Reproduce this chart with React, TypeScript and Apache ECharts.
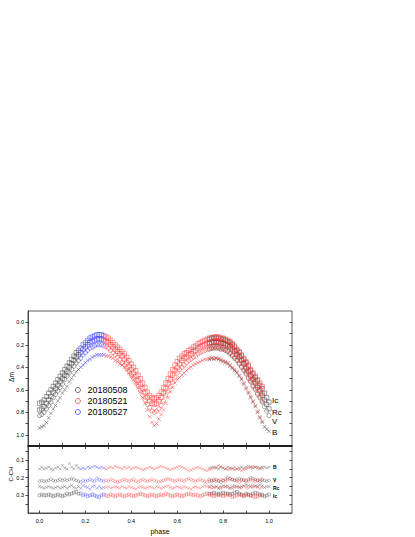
import React, { useEffect, useRef } from "react";
import * as echarts from "echarts";

// ---- phases per observing night ----
const phase508 = [0.00,0.01,0.02,0.03,0.04,0.05,0.06,0.07,0.08,0.09,0.10,0.11,0.12,0.13,0.14,0.15,0.16,0.17,
  0.74,0.75,0.76,0.77,0.78,0.79,0.80,0.81,0.82,0.83,0.84,0.85,0.86,0.87,0.88,0.89,0.90,0.91,0.92,0.93,0.94,0.95,0.96,0.97,0.98,0.99,1.00];
const phase527 = [0.18,0.19,0.20,0.21,0.22,0.23,0.24,0.25,0.26,0.27,0.28];
const phase521 = [0.29,0.30,0.31,0.32,0.33,0.34,0.35,0.36,0.37,0.38,
  0.39,0.40,0.41,0.42,0.43,0.44,0.45,0.46,0.47,0.48,
  0.49,0.50,0.51,0.52,0.53,0.54,0.55,0.56,0.57,0.58,
  0.59,0.60,0.61,0.62,0.63,0.64,0.65,0.66,0.67,0.68,
  0.69,0.70,0.71,0.72,0.73,0.74,0.75,0.76,0.77,0.78,
  0.79,0.80,0.81,0.82,0.83,0.84,0.85,0.86,0.87,0.88,
  0.89,0.90,0.91,0.92,0.93,0.94,0.95,0.96,0.97];

// ---- light curves (Δm) ----
const ic508 = [.72,.71,.69,.66,.63,.60,.57,.54,.51,.48,.45,.42,.39,.36,.33,.30,.27,.25,
  .15,.14,.14,.14,.14,.15,.15,.16,.17,.18,.20,.22,.25,.27,.30,.33,.36,.39,.43,.46,.49,.52,.56,.59,.63,.67,.71];
const rc508 = [.78,.77,.75,.72,.69,.66,.62,.59,.56,.53,.50,.47,.44,.40,.37,.34,.31,.29,
  .19,.18,.18,.18,.18,.19,.19,.20,.21,.22,.24,.26,.29,.31,.34,.37,.41,.44,.48,.51,.54,.58,.61,.65,.69,.73,.77];
const v508 = [.83,.82,.80,.77,.74,.71,.67,.64,.61,.58,.55,.51,.48,.45,.42,.39,.36,.34,
  .24,.23,.23,.23,.23,.24,.24,.25,.26,.28,.30,.32,.34,.37,.40,.43,.46,.50,.53,.57,.60,.64,.67,.71,.75,.79,.83];
const b508 = [.94,.93,.92,.89,.85,.81,.77,.74,.70,.67,.63,.60,.57,.53,.50,.47,.44,.42,
  .33,.32,.33,.32,.33,.34,.35,.36,.37,.39,.41,.43,.45,.48,.51,.55,.59,.63,.67,.71,.75,.80,.85,.89,.93,.95,.97];

const ic527 = [.23,.20,.18,.16,.14,.13,.12,.11,.11,.11,.12];
const rc527 = [.27,.24,.22,.20,.18,.17,.16,.15,.15,.15,.16];
const v527 = [.32,.29,.27,.25,.23,.22,.21,.20,.20,.20,.21];
const b527 = [.40,.38,.36,.34,.33,.31,.30,.29,.29,.29,.29];

const ic521 = [.13,.14,.16,.18,.20,.22,.24,.26,.28,.31,
  .34,.37,.40,.43,.47,.50,.54,.58,.62,.65,
  .67,.68,.67,.65,.62,.58,.54,.50,.46,.42,
  .38,.35,.32,.30,.28,.27,.25,.24,.22,.21,
  .19,.18,.17,.16,.15,.14,.14,.13,.13,.13,
  .14,.14,.15,.16,.17,.19,.21,.24,.26,.29,
  .32,.35,.38,.42,.45,.48,.51,.54,.57];
const rc521 = [.17,.18,.20,.22,.24,.26,.28,.30,.33,.36,
  .39,.42,.45,.48,.52,.55,.59,.63,.67,.70,
  .72,.73,.72,.70,.67,.63,.59,.55,.51,.47,
  .43,.40,.37,.34,.32,.31,.29,.28,.26,.25,
  .23,.22,.21,.20,.19,.18,.18,.17,.17,.17,
  .18,.18,.19,.20,.21,.23,.25,.28,.30,.33,
  .36,.40,.43,.47,.50,.53,.56,.60,.63];
const v521 = [.22,.23,.25,.27,.29,.31,.33,.36,.38,.41,
  .44,.47,.50,.54,.57,.61,.65,.69,.73,.76,
  .79,.80,.79,.77,.74,.70,.65,.61,.57,.53,
  .49,.45,.42,.40,.38,.36,.34,.33,.31,.30,
  .28,.27,.26,.25,.24,.23,.23,.22,.22,.22,
  .23,.23,.24,.25,.27,.29,.31,.33,.36,.39,
  .42,.45,.49,.52,.56,.59,.63,.66,.70];
const b521 = [.30,.30,.31,.32,.34,.35,.37,.38,.40,.42,
  .45,.48,.51,.54,.58,.62,.67,.72,.78,.84,
  .89,.92,.90,.86,.82,.78,.72,.67,.62,.58,
  .54,.51,.49,.47,.45,.43,.41,.40,.38,.37,
  .36,.35,.34,.33,.33,.32,.32,.32,.32,.32,
  .33,.34,.35,.36,.38,.40,.42,.44,.47,.50,
  .54,.58,.62,.66,.70,.74,.79,.84,.88];

// ---- comparison - check (C-CH) ----
const cb508 = [.15,.14,.15,.145,.14,.15,.155,.145,.14,.15,.13,.145,.15,.12,.14,.15,.13,.145,
  .145,.14,.14,.145,.15,.14,.145,.15,.14,.145,.15,.155,.15,.145,.14,.145,.14,.135,.14,.145,.14,.14,.145,.14,.14,.145,.14];
const cv508 = [.22,.215,.22,.22,.215,.21,.215,.22,.215,.21,.215,.21,.215,.21,.205,.21,.215,.22,
  .21,.22,.215,.21,.22,.225,.215,.21,.2,.205,.21,.215,.21,.205,.21,.215,.22,.21,.2,.205,.21,.215,.22,.21,.215,.22,.215];
const crc508 = [.25,.255,.26,.255,.25,.255,.26,.255,.25,.26,.255,.25,.26,.25,.245,.255,.26,.25,
  .25,.245,.255,.25,.26,.25,.245,.25,.255,.26,.25,.245,.25,.255,.25,.245,.24,.245,.25,.255,.245,.25,.24,.245,.255,.25,.25];
const cic508 = [.30,.295,.30,.30,.295,.30,.305,.30,.295,.30,.305,.30,.29,.295,.29,.285,.28,.29,
  .29,.29,.285,.29,.295,.29,.285,.29,.29,.295,.29,.285,.28,.29,.295,.3,.29,.295,.3,.29,.285,.29,.295,.3,.305,.3,.295];

const cb527 = [.15,.145,.15,.14,.145,.14,.135,.14,.145,.14,.145];
const cv527 = [.225,.215,.22,.215,.21,.215,.22,.205,.21,.215,.22];
const crc527 = [.26,.245,.25,.255,.265,.25,.245,.26,.25,.26,.255];
const cic527 = [.29,.3,.295,.305,.3,.295,.3,.305,.31,.3,.295];

const cb521 = [.15,.145,.14,.145,.135,.14,.145,.15,.14,.145,
  .14,.15,.145,.14,.145,.15,.155,.15,.145,.14,
  .145,.15,.145,.14,.135,.14,.145,.15,.155,.15,
  .145,.14,.135,.14,.145,.15,.16,.155,.15,.145,
  .14,.145,.15,.155,.16,.155,.15,.145,.14,.13,
  .135,.145,.15,.155,.15,.145,.14,.15,.155,.16,
  .155,.15,.145,.14,.135,.14,.145,.15,.145];
const cv521 = [.215,.22,.21,.215,.22,.225,.22,.215,.21,.215,
  .22,.215,.21,.22,.225,.215,.21,.215,.22,.215,
  .21,.215,.22,.225,.22,.215,.21,.205,.21,.215,
  .22,.215,.21,.215,.22,.21,.205,.21,.215,.22,
  .215,.21,.215,.22,.225,.22,.215,.21,.22,.215,
  .21,.215,.22,.21,.205,.21,.215,.22,.225,.215,
  .21,.215,.22,.21,.215,.22,.215,.21,.215];
const crc521 = [.255,.25,.26,.255,.25,.255,.26,.25,.255,.26,
  .25,.255,.26,.265,.255,.25,.255,.26,.255,.25,
  .255,.26,.25,.255,.26,.255,.25,.245,.255,.26,
  .255,.25,.255,.26,.25,.255,.26,.265,.255,.25,
  .255,.26,.25,.245,.25,.255,.26,.255,.25,.255,
  .26,.255,.25,.245,.255,.26,.255,.25,.255,.26,
  .25,.255,.26,.25,.245,.25,.255,.26,.255];
const cic521 = [.30,.305,.295,.30,.305,.30,.295,.30,.305,.30,
  .295,.30,.305,.30,.295,.29,.295,.30,.305,.30,
  .295,.30,.305,.30,.295,.30,.29,.295,.30,.305,
  .30,.295,.30,.305,.30,.295,.29,.295,.30,.295,
  .30,.305,.30,.295,.29,.295,.30,.305,.30,.295,
  .30,.305,.30,.295,.30,.31,.305,.30,.295,.30,
  .305,.30,.295,.30,.305,.31,.305,.30,.295];

// ---- axis ticks / labels ----
const xLabels = [0, 0.2, 0.4, 0.6, 0.8, 1.0];
const xTicks = [0, 0.1, 0.2, 0.3, 0.4, 0.5, 0.6, 0.7, 0.8, 0.9, 1.0];
const topLabels = [0, 0.2, 0.4, 0.6, 0.8, 1.0];
const topTicks = [0, 0.1, 0.2, 0.3, 0.4, 0.5, 0.6, 0.7, 0.8, 0.9, 1.0];
const botLabels = [0.1, 0.2, 0.3];
const botTicks = [0.05, 0.1, 0.15, 0.2, 0.25, 0.3, 0.35];
const dates = ["20180508", "20180521", "20180527"];
const bandNames = ["Ic", "Rc", "V", "B"];

const FONT = "'Liberation Sans', Arial, sans-serif";
const X_MARK = "path://M0,0L10,10M10,0L0,10";

export default function App() {
  const ref = useRef<HTMLDivElement>(null);
  useEffect(() => {
    if (!ref.current) return;
    const chart = echarts.init(ref.current, null, { renderer: "svg" });
    const colors: Record<string, string> = {
      "20180508": "#3a3a3a",
      "20180521": "#ff3030",
      "20180527": "#3030ff",
    };
    const series: any[] = [];
    const mk = (name: string, xs: number[], ys: number[], symbol: string, size: number, panel: number) => {
      series.push({
        type: "scatter",
        name,
        xAxisIndex: panel === 0 ? 0 : 2,
        yAxisIndex: panel === 0 ? 0 : 2,
        symbol,
        symbolSize: size,
        silent: true,
        itemStyle: {
          color: "rgba(0,0,0,0)",
          borderColor: colors[name],
          borderWidth: panel === 0 ? 0.5 : 0.45,
          opacity: panel === 0 ? 0.95 : 0.75,
        },
        data: xs.map((x, i) => [x, ys[i]]),
      });
    };
    const nights = [
      { name: "20180508", p: phase508, top: [ic508, rc508, v508, b508], bot: [cic508, crc508, cv508, cb508] },
      { name: "20180527", p: phase527, top: [ic527, rc527, v527, b527], bot: [cic527, crc527, cv527, cb527] },
      { name: "20180521", p: phase521, top: [ic521, rc521, v521, b521], bot: [cic521, crc521, cv521, cb521] },
    ];
    const topSym = ["rect", "rect", "circle", X_MARK];
    const topSize = [4.2, 4.2, 4.2, 3.6];
    const botSym = ["rect", X_MARK, "circle", X_MARK];
    nights.forEach((n) => {
      n.top.forEach((ys, k) => mk(n.name, n.p, ys, topSym[k], topSize[k], 0));
      n.bot.forEach((ys, k) => mk(n.name, n.p, ys, botSym[k], 2.8, 1));
    });

    const tickStyle = { color: "#222", width: 0.8 };
    const lab = { fontSize: 5.5, color: "#000", fontFamily: FONT };
    const fmt = (v: number) => v.toFixed(1);

    const bandTop = [
      { t: bandNames[0], y: 400 },
      { t: bandNames[1], y: 412.7 },
      { t: bandNames[2], y: 421.7 },
      { t: bandNames[3], y: 432 },
    ];
    const bandBot = [
      { t: bandNames[3], y: 466.7 },
      { t: bandNames[2], y: 480 },
      { t: bandNames[1], y: 487.5 },
      { t: bandNames[0], y: 496 },
    ];

    const noZero = { onZero: false };

    chart.setOption({
      animation: false,
      grid: [
        { left: 28, top: 311, width: 264, height: 135, show: true, borderColor: "#333", borderWidth: 0.8 },
        { left: 28, top: 446, width: 264, height: 67, show: true, borderColor: "#333", borderWidth: 0.8 },
      ],
      legend: {
        left: 75,
        top: 385.5,
        orient: "vertical",
        itemWidth: 5,
        itemHeight: 5,
        itemGap: 2,
        padding: 0,
        selectedMode: false,
        textStyle: { fontSize: 9, lineHeight: 9, color: "#000", fontFamily: FONT, padding: [0, 0, 0, 2] },
        data: dates.map((d) => ({
          name: d,
          icon: "circle",
          itemStyle: { color: "rgba(0,0,0,0)", borderColor: colors[d], borderWidth: 0.8 },
        })),
      },
      xAxis: [
        {
          gridIndex: 0, type: "value", position: "bottom", min: -0.05, max: 1.1,
          axisLine: { show: true, ...noZero, lineStyle: { color: "#000", width: 1.5 } },
          axisTick: { show: true, inside: true, length: 3, customValues: xTicks, lineStyle: tickStyle },
          axisLabel: { show: false }, splitLine: { show: false },
        },
        {
          gridIndex: 1, type: "value", position: "top", min: -0.05, max: 1.1,
          axisLine: { show: false, ...noZero },
          axisTick: { show: true, inside: true, length: 3, customValues: xTicks, lineStyle: tickStyle },
          axisLabel: { show: false }, splitLine: { show: false },
        },
        {
          gridIndex: 1, type: "value", position: "bottom", min: -0.05, max: 1.1,
          axisLine: { show: true, ...noZero, lineStyle: { color: "#333", width: 0.8 } },
          axisTick: { show: true, inside: true, length: 2.5, customValues: xTicks, lineStyle: tickStyle },
          axisLabel: { ...lab, customValues: xLabels, formatter: fmt, margin: 5 },
          splitLine: { show: false },
          name: "phase", nameLocation: "middle", nameGap: 15,
          nameTextStyle: { fontSize: 7, color: "#000", fontFamily: FONT },
        },
      ],
      yAxis: [
        {
          gridIndex: 0, type: "value", position: "left", inverse: true, min: -0.1, max: 1.1,
          axisLine: { show: true, ...noZero, lineStyle: { color: "#333", width: 0.8 } },
          axisTick: { show: true, inside: false, length: 2.5, customValues: topTicks, lineStyle: tickStyle },
          axisLabel: { ...lab, customValues: topLabels, formatter: fmt, margin: 4 },
          splitLine: { show: false },
        },
        {
          gridIndex: 0, type: "value", position: "right", inverse: true, min: -0.1, max: 1.1,
          axisLine: { show: false, ...noZero },
          axisTick: { show: true, inside: true, length: 2.5, customValues: topTicks, lineStyle: tickStyle },
          axisLabel: { show: false }, splitLine: { show: false },
        },
        {
          gridIndex: 1, type: "value", position: "left", inverse: true, min: 0.02, max: 0.4,
          axisLine: { show: true, ...noZero, lineStyle: { color: "#333", width: 0.8 } },
          axisTick: { show: true, inside: false, length: 2.5, customValues: botTicks, lineStyle: tickStyle },
          axisLabel: { ...lab, customValues: botLabels, formatter: fmt, margin: 4 },
          splitLine: { show: false },
        },
        {
          gridIndex: 1, type: "value", position: "right", inverse: true, min: 0.02, max: 0.4,
          axisLine: { show: false, ...noZero },
          axisTick: { show: true, inside: true, length: 2.5, customValues: botTicks, lineStyle: tickStyle },
          axisLabel: { show: false }, splitLine: { show: false },
        },
      ],
      graphic: [
        {
          type: "text", x: 11, y: 377, rotation: Math.PI / 2,
          style: { text: "Δm", fontSize: 6.5, fill: "#000", fontFamily: FONT, align: "center", verticalAlign: "middle" },
        },
        {
          type: "text", x: 11, y: 474, rotation: Math.PI / 2,
          style: { text: "C-CH", fontSize: 6, fill: "#000", fontFamily: FONT, align: "center", verticalAlign: "middle" },
        },
        ...bandTop.map((b) => ({
          type: "text", x: 272, y: b.y,
          style: { text: b.t, fontSize: 8, fill: "#000", fontFamily: FONT, align: "left", verticalAlign: "middle" },
        })),
        ...bandBot.map((b) => ({
          type: "text", x: 273, y: b.y,
          style: { text: b.t, fontSize: 5, fill: "#000", fontFamily: FONT, align: "left", verticalAlign: "middle", fontWeight: "bold" },
        })),
      ],
      series,
    });
    return () => chart.dispose();
  }, []);
  return <div ref={ref} style={{ position: "absolute", left: 0, top: 0, width: 415, height: 537 }} />;
}
